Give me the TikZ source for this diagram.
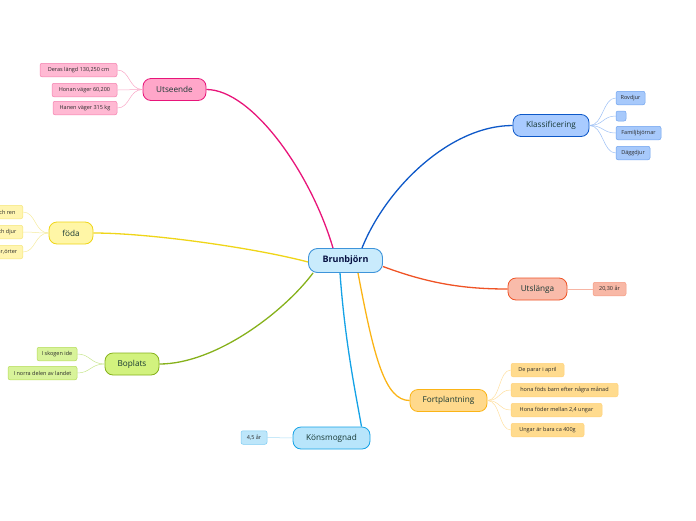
\documentclass[tikz,border=0pt]{standalone}
\usepackage{fontspec}
\setmainfont{Open Sans}
\begin{document}
\definecolor{maintext}{HTML}{173833}
\definecolor{leaftext}{HTML}{2A2A2A}
\definecolor{cfill}{HTML}{C9EBFC}\definecolor{cdraw}{HTML}{3E94DA}
\definecolor{pkfill}{HTML}{FFA6C9}\definecolor{pkdraw}{HTML}{E8157A}\definecolor{pklf}{HTML}{FFB9D3}\definecolor{pkld}{HTML}{F47FAE}\definecolor{pktw}{HTML}{F9A6C6}
\definecolor{blfill}{HTML}{A9CBFF}\definecolor{bldraw}{HTML}{0D58C8}\definecolor{bllf}{HTML}{A7C9FB}\definecolor{blld}{HTML}{6FA3EE}\definecolor{bltw}{HTML}{9DC0F5}
\definecolor{yefill}{HTML}{FFF6A6}\definecolor{yedraw}{HTML}{EFD518}\definecolor{yelf}{HTML}{FFF5B0}\definecolor{yeld}{HTML}{F5E57A}\definecolor{yetw}{HTML}{F5EB9E}
\definecolor{grfill}{HTML}{D2F27E}\definecolor{grdraw}{HTML}{86B11B}\definecolor{grlf}{HTML}{D8F39A}\definecolor{grld}{HTML}{B4DC58}\definecolor{grtw}{HTML}{C8E690}
\definecolor{rdfill}{HTML}{F9BBAA}\definecolor{rddraw}{HTML}{EF5325}\definecolor{rdlf}{HTML}{F8B8A6}\definecolor{rdld}{HTML}{F59A82}\definecolor{rdtw}{HTML}{F7B5A4}
\definecolor{orfill}{HTML}{FFD98C}\definecolor{ordraw}{HTML}{FBB416}\definecolor{orlf}{HTML}{FFDB8E}\definecolor{orld}{HTML}{FFD27A}\definecolor{ortw}{HTML}{FFDFA0}
\definecolor{cyfill}{HTML}{B8E5FB}\definecolor{cydraw}{HTML}{14A2E6}\definecolor{cylf}{HTML}{BDE6FA}\definecolor{cyld}{HTML}{7CCBF2}\definecolor{cytw}{HTML}{A9DDF6}
\begin{tikzpicture}[x=1pt,y=-1pt,
  centre/.style={draw=cdraw,fill=cfill,line width=0.9pt,rounded corners=9pt,minimum height=24pt,minimum width=74pt,inner sep=0pt,font=\fontsize{9}{11}\selectfont\bfseries,text=maintext!60!blue!50!black},
  mainbox/.style={line width=0.8pt,rounded corners=8pt,minimum height=22pt,inner sep=0pt,font=\fontsize{8.2}{10}\selectfont,text=maintext},
  leaf/.style={line width=0.5pt,rounded corners=2pt,minimum height=13.5pt,inner sep=0pt,font=\fontsize{5.5}{6}\selectfont,text=leaftext},
  trunk/.style={line width=1.3pt},
  twig/.style={line width=0.5pt}]
\useasboundingbox (0,0) rectangle (696,520);
\clip (0,0) rectangle (696,520);
% central
\node[centre] (c) at (345.5,260.5) {Brunbjörn};
% main branches
\node[mainbox,draw=pkdraw,fill=pkfill,minimum width=63pt] (ut) at (174.5,89.5) {Utseende};
\node[mainbox,draw=bldraw,fill=blfill,minimum width=76pt] (kl) at (551,125.5) {Klassificering};
\node[mainbox,draw=yedraw,fill=yefill,minimum width=44pt] (fo) at (71,233) {föda};
\node[mainbox,draw=grdraw,fill=grfill,minimum width=54pt] (bo) at (132,364) {Boplats};
\node[mainbox,draw=rddraw,fill=rdfill,minimum width=59pt] (us) at (537.5,289) {Utslänga};
\node[mainbox,draw=ordraw,fill=orfill,minimum width=77pt] (fp) at (448.5,400.5) {Fortplantning};
\node[mainbox,draw=cydraw,fill=cyfill,minimum width=77pt] (ko) at (331.5,438) {Könsmognad};
% leaves
\node[leaf,draw=pkld,fill=pklf,minimum width=77pt] (ut1) at (78.5,70) {Deras längd 130,250 cm};
\node[leaf,draw=pkld,fill=pklf,minimum width=65pt] (ut2) at (84.5,90) {Honan väger 60,200};
\node[leaf,draw=pkld,fill=pklf,minimum width=64pt] (ut3) at (85,108) {Hanen väger 315 kg};
\node[leaf,draw=blld,fill=bllf,minimum width=29pt] (kl1) at (630.5,98) {Rovdjur};
\node[leaf,draw=blld,fill=bllf,minimum width=10pt,minimum height=10pt] (kl2) at (621,116) {};
\node[leaf,draw=blld,fill=bllf,minimum width=45pt] (kl3) at (638.5,133) {Familjbjörnar};
\node[leaf,draw=blld,fill=bllf,minimum width=34pt] (kl4) at (633,153) {Däggdjur};
\node[leaf,draw=yeld,fill=yelf,minimum width=34pt,anchor=east] (fo1) at (23,212) {och ren};
\node[leaf,draw=yeld,fill=yelf,minimum width=34pt,anchor=east] (fo2) at (23,232) {och djur};
\node[leaf,draw=yeld,fill=yelf,minimum width=34pt,anchor=east] (fo3) at (23,252) {bär,örter};
\node[leaf,draw=grld,fill=grlf,minimum width=40pt] (bo1) at (57,354) {I skogen ide};
\node[leaf,draw=grld,fill=grlf,minimum width=69pt] (bo2) at (42.5,373) {I norra delen av landet};
\node[leaf,draw=rdld,fill=rdlf,minimum width=33pt] (us1) at (609.5,289) {20,30 år};
\node[leaf,draw=orld,fill=orlf,minimum width=53pt] (fp1) at (537.5,370) {De parar i april};
\node[leaf,draw=orld,fill=orlf,minimum width=107pt] (fp2) at (564.5,390) {hona föds barn efter några månad};
\node[leaf,draw=orld,fill=orlf,minimum width=91pt] (fp3) at (556.5,410) {Hona föder mellan 2,4 ungar};
\node[leaf,draw=orld,fill=orlf,minimum width=73pt] (fp4) at (547.5,430) {Ungar är bara ca 400g};
\node[leaf,draw=cyld,fill=cylf,minimum width=26pt] (ko1) at (254,437.5) {4,5 år};
% trunks
\draw[trunk,pkdraw] ([xshift=-12.5pt]c.north) .. controls +(-22,-75) and (252,89.5) .. (ut.east);
\draw[trunk,bldraw] ([xshift=16.5pt]c.north) .. controls +(24,-60) and (450,125.5) .. (kl.west);
\draw[trunk,yedraw] ([yshift=-1.5pt]c.west) .. controls (255,248) and (150,233) .. (fo.east);
\draw[trunk,grdraw] ([xshift=5pt]c.south west) .. controls +(-30,40) and (215,364) .. (bo.east);
\draw[trunk,cydraw] ([xshift=-5.5pt]c.south) .. controls +(5,70) and (356,395) .. ([xshift=30pt]ko.north);
\draw[trunk,ordraw] ([xshift=12.5pt]c.south) .. controls +(16,85) and (385,400.5) .. (fp.west);
\draw[trunk,rddraw] ([yshift=-6pt]c.east) .. controls (430,284) and (465,289) .. (us.west);
% twigs
\foreach \l in {ut1,ut2,ut3}{\draw[twig,pktw] (ut.west) .. controls +(-14,0) and +(13,0) .. (\l.east);}
\foreach \l in {kl1,kl2,kl3,kl4}{\draw[twig,bltw] (kl.east) .. controls +(14,0) and +(-13,0) .. (\l.west);}
\foreach \l in {fo1,fo2,fo3}{\draw[twig,yetw] (fo.west) .. controls +(-14,0) and +(13,0) .. (\l.east);}
\foreach \l in {bo1,bo2}{\draw[twig,grtw] (bo.west) .. controls +(-14,0) and +(13,0) .. (\l.east);}
\foreach \l in {fp1,fp2,fp3,fp4}{\draw[twig,ortw] (fp.east) .. controls +(13,0) and +(-12,0) .. (\l.west);}
\draw[twig,rdtw] (us.east) -- (us1.west);
\draw[twig,cytw] (ko.west) -- (ko1.east);
\end{tikzpicture}
\end{document}
